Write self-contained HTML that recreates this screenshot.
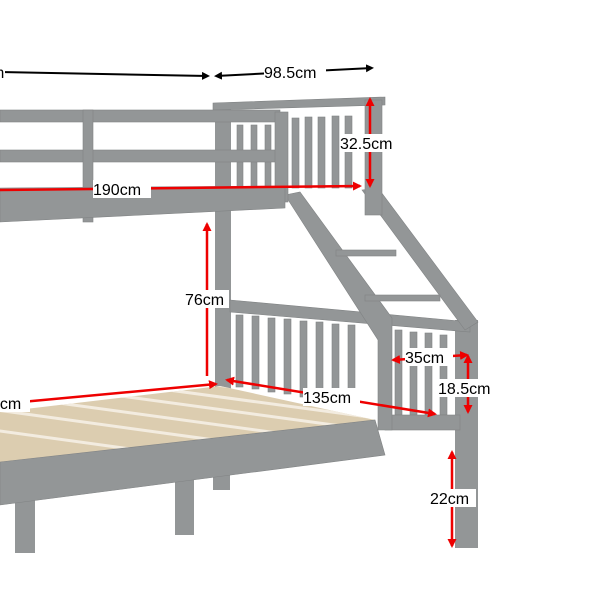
<!DOCTYPE html>
<html><head><style>body{margin:0;background:#fff}svg{display:block}text{font-family:"Liberation Sans",sans-serif;font-size:16px;fill:#000}</style></head><body>
<svg width="600" height="600" viewBox="0 0 600 600" xmlns="http://www.w3.org/2000/svg">
<defs>
<marker id="ab" markerWidth="8" markerHeight="8" refX="6" refY="4" orient="auto-start-reverse" markerUnits="userSpaceOnUse"><path d="M0,0 L8,4 L0,8z" fill="#000"/></marker>
<marker id="ar" markerWidth="9" markerHeight="9" refX="7" refY="4.5" orient="auto-start-reverse" markerUnits="userSpaceOnUse"><path d="M0,0 L9,4.5 L0,9z" fill="#e00"/></marker>
<clipPath id="mc"><polygon points="0,412 220,386 375,420 0,462"/></clipPath>
</defs>
<g fill="#939697" stroke="#80838"  stroke-width="0.6">
<rect x="15" y="490" width="20" height="63"/>
<rect x="175" y="478" width="19" height="57"/>
<rect x="213" y="470" width="17" height="20"/>
<rect x="455" y="320" width="23" height="228"/>
<rect x="215" y="105" width="16" height="300"/>
</g>
<polygon points="0,412 220,386 375,420 0,462" fill="#dccdb0"/>
<g clip-path="url(#mc)" stroke="#f3ece0" stroke-width="3">
<line x1="-40" y1="405" x2="360" y2="460"/><line x1="0" y1="395" x2="380" y2="447"/><line x1="40" y1="385" x2="400" y2="434"/><line x1="80" y1="378" x2="420" y2="424"/><line x1="120" y1="372" x2="440" y2="415"/><line x1="-80" y1="420" x2="320" y2="475"/>
</g>
<g fill="#939697" stroke="#808384" stroke-width="0.6">
<polygon points="230,300 470,322 470,332 230,312"/>
<g>
<rect x="236" y="315" width="7" height="72"/><rect x="252" y="316" width="7" height="73"/><rect x="268" y="318" width="7" height="74"/><rect x="284" y="319" width="7" height="75"/><rect x="300" y="321" width="7" height="76"/><rect x="316" y="322" width="7" height="77"/><rect x="332" y="324" width="7" height="78"/><rect x="348" y="325" width="7" height="78"/>
<rect x="395" y="330" width="7" height="85"/><rect x="410" y="332" width="7" height="83"/><rect x="425" y="333" width="7" height="82"/><rect x="440" y="335" width="7" height="80"/>
</g>
<rect x="385" y="415" width="75" height="15"/>
<polygon points="0,462 375,420 385,455 0,505"/>
<polygon points="285,195 300,192 392,318 392,430 378,430 378,340"/>
<polygon points="362,190 378,188 478,322 465,330"/>
<rect x="336" y="250" width="60" height="6"/>
<rect x="365" y="295" width="75" height="6"/>
<polygon points="213,103 385,97 385,105 213,110"/>
<rect x="365" y="100" width="17" height="115"/>
<rect x="292" y="118" width="7" height="70"/><rect x="305" y="117" width="7" height="71"/><rect x="318" y="117" width="7" height="71"/><rect x="332" y="116" width="7" height="72"/><rect x="345" y="116" width="7" height="72"/>
<rect x="237" y="125" width="6" height="62"/><rect x="251" y="125" width="6" height="62"/><rect x="265" y="125" width="6" height="62"/>
<rect x="0" y="110" width="280" height="12"/>
<rect x="0" y="150" width="280" height="12"/>
<rect x="83" y="110" width="10" height="112"/>
<rect x="275" y="112" width="13" height="90"/>
<polygon points="0,188 285,186 285,208 0,222"/>
</g>
<line x1="0" y1="72" x2="208" y2="76" stroke="#000" stroke-width="2" marker-end="url(#ab)"/>
<line x1="216" y1="76" x2="372" y2="68" stroke="#000" stroke-width="2" marker-start="url(#ab)" marker-end="url(#ab)"/>
<rect x="264" y="63" width="62" height="18" fill="#fff"/><text x="264" y="78">98.5cm</text>
<rect x="0" y="64" width="5" height="18" fill="#fff"/><text x="-9" y="78">m</text>
<g stroke="#e00" stroke-width="2.5" fill="none">
<line x1="0" y1="190" x2="360" y2="186" marker-end="url(#ar)"/>
<line x1="370" y1="99" x2="370" y2="186" marker-start="url(#ar)" marker-end="url(#ar)"/>
<line x1="207" y1="224" x2="207" y2="376" marker-start="url(#ar)"/>
<line x1="0" y1="404" x2="216" y2="384" marker-end="url(#ar)"/>
<line x1="227" y1="380" x2="435" y2="414" marker-start="url(#ar)" marker-end="url(#ar)"/>
<line x1="393" y1="360" x2="467" y2="355" marker-start="url(#ar)" marker-end="url(#ar)"/>
<line x1="468" y1="356" x2="468" y2="412" marker-start="url(#ar)" marker-end="url(#ar)"/>
<line x1="452" y1="452" x2="452" y2="546" marker-start="url(#ar)" marker-end="url(#ar)"/>
</g>
<g fill="#fff">
<rect x="93" y="180" width="58" height="18"/>
<rect x="340" y="134" width="60" height="18"/>
<rect x="185" y="290" width="44" height="18"/>
<rect x="0" y="394" width="30" height="18"/>
<rect x="303" y="388" width="57" height="18"/>
<rect x="405" y="348" width="48" height="18"/>
<rect x="438" y="379" width="60" height="18"/>
<rect x="430" y="489" width="46" height="18"/>
</g>
<text x="93" y="195">190cm</text>
<text x="340" y="149">32.5cm</text>
<text x="185" y="305">76cm</text>
<text x="-9" y="409">0cm</text>
<text x="303" y="403">135cm</text>
<text x="405" y="363">35cm</text>
<text x="438" y="394">18.5cm</text>
<text x="430" y="504">22cm</text>
</svg>
</body></html>
